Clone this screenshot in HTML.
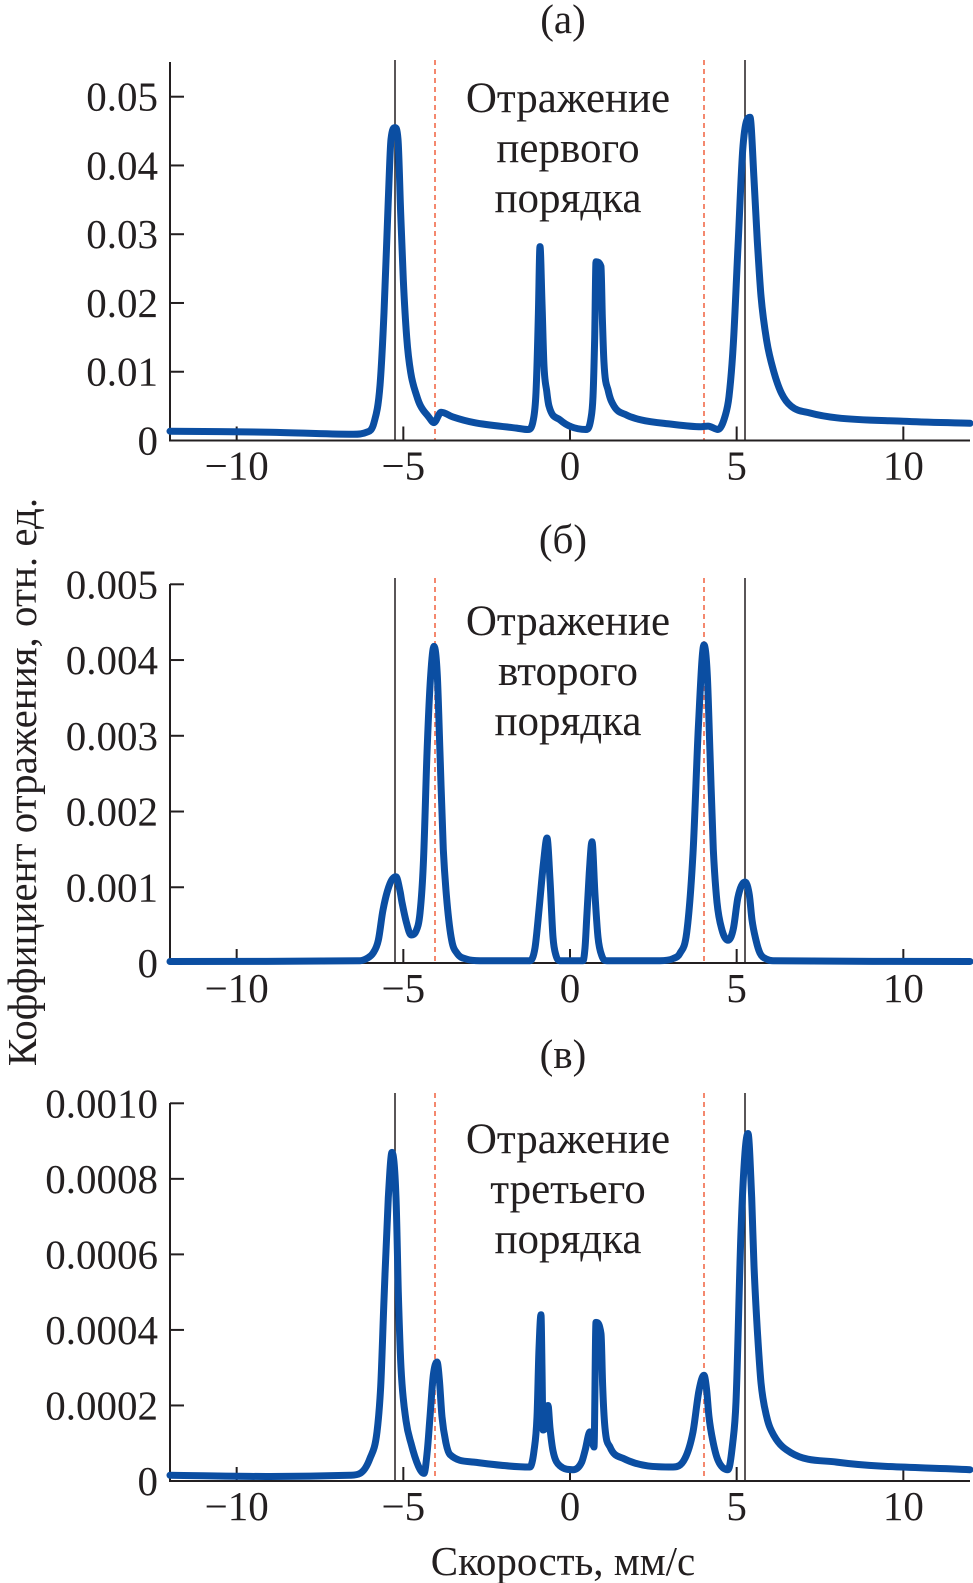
<!DOCTYPE html>
<html><head><meta charset="utf-8"><style>
html,body{margin:0;padding:0;background:#fff}
svg{display:block}
text{font-family:"Liberation Serif",serif;fill:#231f20}
</style></head><body>
<svg id="chart" width="973" height="1583" viewBox="0 0 973 1583" xmlns="http://www.w3.org/2000/svg"></svg>
<script>
// Panel (a) data
const velA = [-12,-9,-6.5,-6.1,-5.88,-5.7,-5.58,-5.45,-5.37,-5.25,-5.16,-5.08,-5.0,-4.9,-4.78,-4.6,-4.48,-4.25,-4.08,-3.87,-3.5,-2.88,-1.6,-1.26,-1.1,-1.02,-0.95,-0.9,-0.84,-0.78,-0.7,-0.63,-0.3,0.03,0.48,0.62,0.69,0.74,0.78,0.93,0.97,1.02,1.15,1.32,1.7,2.13,3.0,3.93,4.14,4.44,4.65,4.77,4.9,5.04,5.19,5.4,5.52,5.62,5.73,5.9,6.12,6.35,6.63,7.2,8,10,12];
const valA = [0.00135,0.0012,0.0009,0.0012,0.0026,0.008,0.0186,0.035,0.0438,0.0455,0.0438,0.033,0.0234,0.015,0.0099,0.0065,0.005,0.0035,0.0026,0.0041,0.0034,0.0026,0.0018,0.0016,0.003,0.007,0.018,0.0282,0.02,0.0108,0.0072,0.005,0.003,0.002,0.0016,0.003,0.0064,0.015,0.026,0.0253,0.018,0.0113,0.0072,0.005,0.0037,0.003,0.0024,0.002,0.0021,0.0016,0.0035,0.0064,0.014,0.0282,0.0428,0.047,0.038,0.029,0.021,0.0145,0.0099,0.0068,0.005,0.004,0.0033,0.0028,0.0025];
// Panel (b) data
const velB = [-12,-6.3,-6.1,-5.91,-5.75,-5.61,-5.4,-5.22,-5.1,-5.04,-4.9,-4.77,-4.62,-4.5,-4.4,-4.29,-4.18,-4.08,-3.98,-3.9,-3.8,-3.69,-3.55,-3.39,-3.1,-2.7,-1.2,-1.05,-0.93,-0.8,-0.69,-0.6,-0.51,-0.42,-0.3,0.39,0.45,0.51,0.58,0.66,0.75,0.84,0.95,1.11,2.7,3.1,3.3,3.5,3.69,3.85,4.02,4.12,4.2,4.3,4.41,4.55,4.74,4.9,5.04,5.25,5.38,5.46,5.58,5.7,5.9,6.09,12];
const valB = [0.00002,0.00003,0.00006,0.00013,0.0003,0.0007,0.00105,0.00114,0.00095,0.0008,0.00052,0.00037,0.00042,0.00066,0.0013,0.00277,0.0038,0.00418,0.0038,0.00277,0.0015,0.0008,0.0003,0.00013,0.00005,0.00003,0.00003,0.0002,0.0007,0.0013,0.00165,0.0011,0.00034,0.0001,0.00003,0.00003,0.0002,0.00066,0.0012,0.0016,0.0009,0.00034,0.0001,0.00003,0.00003,0.00006,0.00013,0.0004,0.00145,0.0031,0.0042,0.0038,0.00277,0.0015,0.0008,0.00045,0.0003,0.00045,0.00087,0.00107,0.0009,0.00057,0.0003,0.00013,0.00005,0.00003,0.00002];
// Panel (c) data
const velC = [-12,-9,-6.6,-6.3,-6.0,-5.79,-5.68,-5.58,-5.45,-5.34,-5.22,-5.15,-5.07,-4.92,-4.77,-4.55,-4.38,-4.28,-4.2,-4.1,-3.99,-3.92,-3.84,-3.72,-3.6,-2.88,-1.2,-1.08,-0.99,-0.93,-0.87,-0.84,-0.81,-0.72,-0.66,-0.6,-0.51,-0.3,0.09,0.35,0.45,0.6,0.72,0.78,0.93,0.98,1.05,1.2,1.59,3.09,3.45,3.69,3.87,4.02,4.1,4.17,4.3,4.44,4.74,4.88,4.98,5.13,5.25,5.34,5.45,5.52,5.62,5.73,5.9,6.12,6.63,8,12];
const valC = [0.000015,0.000012,0.000015,0.00002,0.00006,0.00013,0.00025,0.00048,0.00075,0.00087,0.00075,0.0005,0.0003,0.00016,0.0001,0.00004,0.00002,0.00008,0.00017,0.00028,0.000315,0.00027,0.00017,0.0001,0.00007,0.00005,0.000037,0.00008,0.00017,0.00035,0.00044,0.0003,0.000135,0.00015,0.0002,0.00014,0.00008,0.00004,0.00003,0.00005,0.00008,0.00013,0.00009,0.00042,0.00039,0.00025,0.00014,0.00009,0.00006,0.000037,0.00006,0.00013,0.00024,0.00028,0.00024,0.00017,0.0001,0.000055,0.00003,0.0001,0.00021,0.00066,0.00087,0.00092,0.00075,0.00057,0.0004,0.00026,0.00017,0.00012,0.000075,0.00005,0.00003];
const xTicks = [-10,-5,0,5,10];
const xTickLabels = ["\u221210","\u22125","0","5","10"];
const yTicksA = [0,0.01,0.02,0.03,0.04,0.05];
const yLabelsA = ["0","0.01","0.02","0.03","0.04","0.05"];
const yTicksB = [0,0.001,0.002,0.003,0.004,0.005];
const yLabelsB = ["0","0.001","0.002","0.003","0.004","0.005"];
const yTicksC = [0,0.0002,0.0004,0.0006,0.0008,0.001];
const yLabelsC = ["0","0.0002","0.0004","0.0006","0.0008","0.0010"];
const blackLines = [-5.25,5.25];
const redLines = [-4.05,4.02];

const NS = "http://www.w3.org/2000/svg";
const svg = document.getElementById('chart');
const X0 = 170, X1 = 970, XMIN = -12, XMAX = 12;
function xs(v){ return X0 + (v - XMIN) / (XMAX - XMIN) * (X1 - X0); }
function mk(tag, attrs, parent){ const e = document.createElementNS(NS, tag); for (const k in attrs) e.setAttribute(k, attrs[k]); (parent||svg).appendChild(e); return e; }

// monotone cubic (Fritsch–Carlson) path through pixel points
function monoPath(px, py){
  const n = px.length, d = [], m = [];
  for (let i = 0; i < n-1; i++) d.push((py[i+1]-py[i])/(px[i+1]-px[i]));
  m[0] = d[0]; m[n-1] = d[n-2];
  for (let i = 1; i < n-1; i++) m[i] = (d[i-1]*d[i] <= 0) ? 0 : (d[i-1]+d[i])/2;
  for (let i = 0; i < n-1; i++) {
    if (d[i] === 0) { m[i] = 0; m[i+1] = 0; continue; }
    const a = m[i]/d[i], b = m[i+1]/d[i], s = a*a + b*b;
    if (s > 9) { const t = 3/Math.sqrt(s); m[i] = t*a*d[i]; m[i+1] = t*b*d[i]; }
  }
  let p = 'M' + px[0].toFixed(1) + ',' + py[0].toFixed(1);
  for (let i = 0; i < n-1; i++) {
    const h = (px[i+1]-px[i])/3;
    p += ' C' + (px[i]+h).toFixed(1) + ',' + (py[i]+m[i]*h).toFixed(1) + ' ' + (px[i+1]-h).toFixed(1) + ',' + (py[i+1]-m[i+1]*h).toFixed(1) + ' ' + px[i+1].toFixed(1) + ',' + py[i+1].toFixed(1);
  }
  return p;
}

const panels = [
  {id:'a', vel:velA, val:valA, yt:yTicksA, yl:yLabelsA, ymax:0.05, y0:440.5, ytop:96.7, axisTop:62, lineTop:60, title:'(а)', titleY:33, lines:['Отражение','первого','порядка'], textY:112},
  {id:'b', vel:velB, val:valB, yt:yTicksB, yl:yLabelsB, ymax:0.005, y0:963, ytop:584.3, axisTop:584, lineTop:578, title:'(б)', titleY:553, lines:['Отражение','второго','порядка'], textY:635},
  {id:'c', vel:velC, val:valC, yt:yTicksC, yl:yLabelsC, ymax:0.001, y0:1481, ytop:1103.3, axisTop:1103, lineTop:1093, title:'(в)', titleY:1068, lines:['Отражение','третьего','порядка'], textY:1153}
];

panels.forEach(p => {
  const g = mk('g', {});
  
  
  const ys = v => p.y0 - v / p.ymax * (p.y0 - p.ytop);
  blackLines.forEach(v => {
    const l = mk('line', {x1:xs(v), x2:xs(v), y1:p.lineTop, y2:p.y0, stroke:'#231f20', 'stroke-width':1.5}, g);
    
    
  });
  redLines.forEach(v => {
    const l = mk('line', {x1:xs(v), x2:xs(v), y1:p.lineTop, y2:p.y0, stroke:'#f26a4b', 'stroke-width':1.6, 'stroke-dasharray':'5,4'}, g);
    
    
  });
  const ax = mk('path', {d:`M${X0},${p.axisTop} L${X0},${p.y0} L${X1},${p.y0}`, fill:'none', stroke:'#231f20', 'stroke-width':2}, g);
  
  
  p.yt.forEach((v, i) => {
    const y = ys(v);
    if (i > 0) mk('line', {x1:X0, x2:X0+14, y1:y, y2:y, stroke:'#231f20', 'stroke-width':2}, g);
    const t = mk('text', {x:158, y:y+14, 'text-anchor':'end', 'font-size':41}, g);
    t.textContent = p.yl[i];
    
    
  });
  xTicks.forEach((v, i) => {
    const x = xs(v);
    mk('line', {x1:x, x2:x, y1:p.y0, y2:p.y0-14, stroke:'#231f20', 'stroke-width':2}, g);
    const t = mk('text', {x:x, y:p.y0+39, 'text-anchor':'middle', 'font-size':41}, g);
    t.textContent = xTickLabels[i];
    
    
  });
  const px = p.vel.map(xs), py = p.val.map(ys);
  const path = mk('path', {d:monoPath(px, py), fill:'none', stroke:'#0b4ea2', 'stroke-width':7, 'stroke-linejoin':'round', 'stroke-linecap':'round'}, g);
  
  
  const tt = mk('text', {x:563, y:p.titleY, 'text-anchor':'middle', 'font-size':41}, g);
  tt.textContent = p.title;
  
  
  p.lines.forEach((s, i) => {
    const t = mk('text', {x:568, y:p.textY + i*50, 'text-anchor':'middle', 'font-size':43}, g);
    t.textContent = s;
    
    
  });
});

const yt = mk('text', {x:0, y:0, 'text-anchor':'middle', 'font-size':41, transform:'translate(36,782) rotate(-90)'});
yt.textContent = 'Коффициент отражения, отн. ед.';


const xt = mk('text', {x:563, y:1575, 'text-anchor':'middle', 'font-size':41});
xt.textContent = 'Скорость, мм/с';


</script>
</body></html>
